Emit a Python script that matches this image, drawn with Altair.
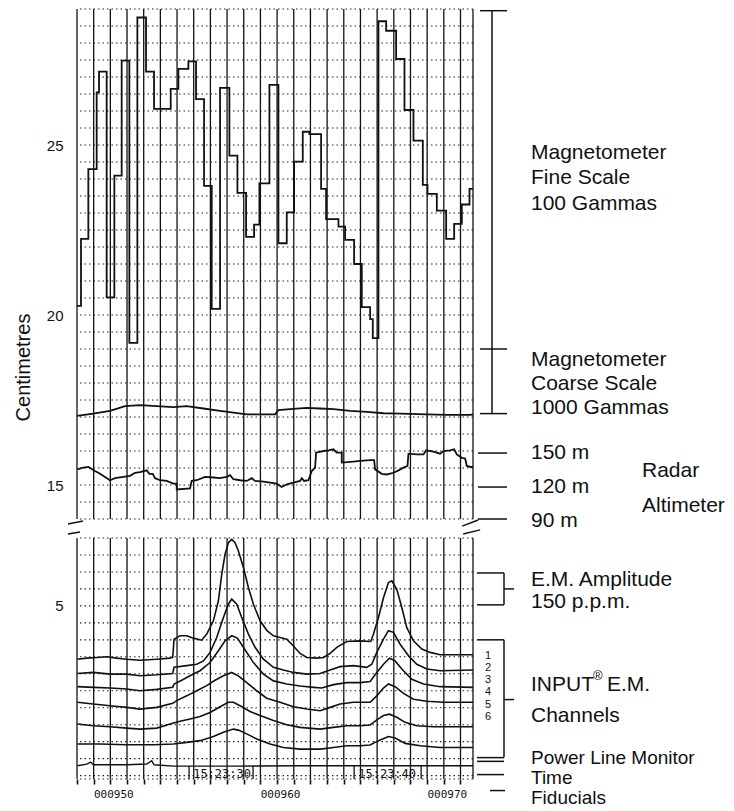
import altair as alt
import pandas as pd
import numpy as np

# ---------------- data (fiducial number -> centimetres on the chart) ----------------
mag_fine_x = [948.0, 948.24, 948.68, 949.18, 949.32, 949.78, 950.24, 950.68, 951.14, 951.62,
              952.14, 952.62, 953.62, 954.08, 954.68, 955.14, 955.62, 956.08, 956.58, 957.14,
              957.62, 958.14, 958.62, 958.94, 959.54, 960.08, 960.58, 961.02, 961.54, 961.94,
              962.64, 962.94, 963.68, 964.08, 964.62, 965.08, 965.58, 965.74, 966.08, 966.54,
              967.14, 967.64, 968.18, 968.74, 969.02, 969.58, 970.14, 970.62, 971.08, 971.54, 971.75]
mag_fine_y = [20.27, 22.24, 24.29, 26.55, 27.16, 20.52, 24.10, 27.48, 19.18, 28.75,
              27.16, 26.06, 26.65, 27.24, 27.46, 26.35, 23.80, 20.18, 26.68, 24.69,
              23.59, 22.30, 22.66, 23.87, 26.77, 22.11, 23.02, 24.51, 25.39, 25.32,
              23.71, 22.82, 22.60, 22.21, 21.50, 20.23, 19.88, 19.32, 28.64, 28.36,
              27.53, 26.03, 25.13, 23.83, 23.56, 23.07, 22.24, 22.68, 23.25, 23.71, 23.71]

mag_coarse_x = [948.0, 948.98, 949.98, 950.88, 951.78, 952.78, 953.78, 954.58, 955.58, 956.58,
                957.38, 958.18, 958.98, 959.88, 960.08, 960.78, 961.78, 962.58, 963.38, 964.38,
                965.38, 966.38, 967.38, 968.98, 970.18, 971.58, 971.75]
mag_coarse_y = [17.03, 17.10, 17.18, 17.32, 17.35, 17.32, 17.29, 17.32, 17.25, 17.18,
                17.13, 17.08, 17.08, 17.08, 17.20, 17.23, 17.27, 17.25, 17.23, 17.18,
                17.15, 17.11, 17.10, 17.08, 17.06, 17.06, 17.08]

radar_x = [948.02, 948.38, 948.68, 949.08, 949.38, 949.98, 950.28, 950.78, 951.18, 951.48,
           951.78, 952.18, 952.34, 952.54, 952.68, 952.98, 953.38, 953.78, 953.98, 953.98,
           954.78, 954.88, 955.18, 955.68, 956.18, 956.58, 956.98, 957.18, 957.38, 957.78,
           958.18, 958.48, 958.68, 959.18, 959.98, 960.28, 960.58, 960.98, 961.38, 961.48,
           961.62, 961.88, 962.08, 962.28, 962.34, 962.78, 963.08, 963.38, 963.58, 963.88,
           963.88, 964.58, 964.98, 965.58, 965.82, 965.88, 966.28, 966.58, 966.98, 967.28,
           967.58, 967.82, 967.88, 968.38, 968.78, 968.94, 969.38, 969.78, 969.98, 970.38,
           970.62, 970.78, 971.08, 971.28, 971.38, 971.62, 971.75]
radar_y = [15.46, 15.51, 15.53, 15.41, 15.33, 15.14, 15.20, 15.24, 15.27, 15.36,
           15.38, 15.43, 15.33, 15.33, 15.20, 15.14, 15.12, 15.04, 15.04, 14.87,
           14.90, 15.12, 15.14, 15.24, 15.22, 15.20, 15.24, 15.29, 15.17, 15.14,
           15.12, 15.20, 15.12, 15.10, 15.04, 14.94, 15.02, 15.07, 15.12, 15.20,
           15.12, 15.14, 15.41, 15.51, 15.95, 16.00, 16.02, 16.05, 15.95, 15.95,
           15.66, 15.69, 15.71, 15.73, 15.73, 15.46, 15.33, 15.31, 15.36, 15.43,
           15.51, 15.56, 15.92, 15.90, 15.90, 16.02, 15.98, 15.92, 16.00, 16.02,
           16.05, 15.90, 15.80, 15.78, 15.56, 15.53, 15.53]

ch1_x = [948.02, 948.58, 949.18, 949.78, 950.38, 950.98, 951.78, 952.78, 953.58, 953.74,
         953.82, 954.18, 954.58, 954.98, 955.48, 955.78, 956.18, 956.48, 956.68, 956.88,
         957.08, 957.28, 957.48, 957.68, 957.98, 958.28, 958.58, 958.98, 959.38, 959.78,
         960.18, 960.58, 960.98, 961.38, 961.78, 962.38, 962.78, 963.18, 963.58, 964.18,
         964.98, 965.62, 965.78, 966.08, 966.38, 966.68, 966.88, 967.18, 967.48, 967.78,
         968.18, 968.68, 969.18, 969.78, 970.58, 971.75]
ch1_y = [3.43, 3.46, 3.48, 3.50, 3.46, 3.43, 3.40, 3.43, 3.46, 3.48,
         4.02, 4.12, 4.12, 4.05, 3.99, 4.17, 4.56, 5.15, 5.93, 6.52,
         6.86, 6.96, 6.86, 6.62, 6.13, 5.54, 5.05, 4.56, 4.28, 4.12,
         4.07, 4.02, 3.82, 3.60, 3.48, 3.46, 3.48, 3.60, 3.78, 3.95,
         3.97, 3.95, 4.17, 4.66, 5.24, 5.69, 5.74, 5.49, 4.95, 4.36,
         3.97, 3.73, 3.63, 3.56, 3.56, 3.56]

ch2_x = [948.02, 948.98, 949.98, 950.98, 951.78, 952.78, 953.74, 953.82, 954.58, 955.18,
         955.58, 955.98, 956.38, 956.78, 957.08, 957.28, 957.58, 957.88, 958.28, 958.68,
         959.18, 959.78, 960.38, 960.98, 961.78, 962.58, 963.18, 963.78, 964.58, 965.38,
         965.68, 965.98, 966.38, 966.68, 966.98, 967.38, 967.88, 968.38, 968.98, 969.78, 971.75]
ch2_y = [3.01, 3.04, 2.99, 2.99, 2.94, 2.97, 3.01, 3.19, 3.24, 3.28,
         3.38, 3.63, 4.07, 4.66, 5.05, 5.20, 5.05, 4.66, 4.17, 3.78,
         3.43, 3.19, 3.11, 3.04, 2.99, 3.01, 3.11, 3.21, 3.24, 3.19,
         3.28, 3.63, 4.02, 4.27, 4.22, 3.87, 3.53, 3.28, 3.14, 3.09, 3.11]

ch3_x = [948.02, 948.98, 949.98, 950.98, 951.78, 952.78, 953.74, 953.82, 954.28, 954.78,
         955.38, 955.98, 956.48, 956.88, 957.28, 957.62, 957.98, 958.58, 959.18, 959.78,
         960.58, 961.38, 962.18, 962.68, 963.38, 964.18, 964.98, 965.58, 965.98, 966.38,
         966.74, 967.08, 967.48, 968.08, 968.78, 969.78, 971.75]
ch3_y = [2.62, 2.60, 2.58, 2.55, 2.50, 2.54, 2.60, 2.70, 2.81, 2.94,
         3.09, 3.33, 3.68, 3.97, 4.12, 4.05, 3.78, 3.33, 2.99, 2.79,
         2.70, 2.64, 2.60, 2.58, 2.68, 2.74, 2.74, 2.77, 3.04, 3.28,
         3.46, 3.38, 3.14, 2.84, 2.70, 2.62, 2.60]

ch4_x = [948.02, 948.98, 949.98, 950.98, 951.78, 952.78, 953.74, 953.98, 954.58, 955.18,
         955.78, 956.28, 956.78, 957.28, 957.68, 958.18, 958.78, 959.38, 960.18, 960.98,
         961.78, 962.58, 963.18, 963.78, 964.58, 965.58, 965.98, 966.38, 966.68, 967.08,
         967.58, 968.18, 968.98, 969.98, 971.75]
ch4_y = [2.16, 2.11, 2.06, 2.01, 1.96, 2.01, 2.13, 2.21, 2.35, 2.50,
         2.65, 2.81, 2.94, 3.04, 2.94, 2.74, 2.50, 2.28, 2.16, 2.03,
         1.96, 1.91, 2.01, 2.11, 2.16, 2.16, 2.35, 2.58, 2.70, 2.62,
         2.42, 2.25, 2.19, 2.16, 2.16]

ch5_x = [948.02, 948.98, 949.98, 950.98, 951.78, 952.78, 953.74, 954.18, 954.78, 955.38,
         955.98, 956.58, 957.08, 957.38, 957.78, 958.38, 958.98, 959.78, 960.58, 961.38,
         962.58, 963.38, 964.18, 964.98, 965.58, 965.98, 966.38, 966.74, 967.18, 967.68,
         968.38, 969.38, 971.75]
ch5_y = [1.52, 1.47, 1.44, 1.40, 1.37, 1.40, 1.54, 1.60, 1.67, 1.74,
         1.86, 2.03, 2.16, 2.16, 2.06, 1.89, 1.77, 1.62, 1.50, 1.42,
         1.37, 1.42, 1.47, 1.47, 1.49, 1.64, 1.77, 1.81, 1.72, 1.57,
         1.47, 1.44, 1.44]

ch6_x = [948.02, 949.38, 950.98, 952.58, 953.78, 954.58, 955.38, 956.18, 956.78, 957.38,
         957.68, 958.18, 958.78, 959.58, 960.38, 961.38, 962.58, 963.38, 964.18, 964.98,
         965.58, 966.08, 966.68, 967.08, 967.68, 968.58, 969.78, 971.75]
ch6_y = [0.93, 0.93, 0.91, 0.91, 0.93, 0.98, 1.03, 1.15, 1.28, 1.37,
         1.34, 1.23, 1.08, 0.93, 0.83, 0.78, 0.78, 0.83, 0.88, 0.88,
         0.90, 1.03, 1.15, 1.11, 0.95, 0.88, 0.83, 0.83]

power_x = [948.02, 948.58, 948.82, 948.98, 950.98, 952.18, 952.48, 952.62, 953.78, 957.38,
           961.38, 965.38, 971.75]
power_y = [0.29, 0.34, 0.40, 0.32, 0.32, 0.34, 0.44, 0.32, 0.28, 0.28,
           0.29, 0.29, 0.29]

time_labels = ["15:23:30", "15:23:40"]
time_label_x = [956.7, 966.6]
time_bracket_x = [954.72, 958.56, 964.62, 968.64]
fiducial_ticks = list(range(948, 972))

upper_labels = ["Magnetometer", "Fine Scale", "100 Gammas",
                "Magnetometer", "Coarse Scale", "1000 Gammas",
                "150 m", "120 m", "90 m"]
upper_label_y = [24.76, 24.03, 23.26, 18.67, 17.97, 17.27, 15.94, 14.94, 13.94]
radar_labels = ["Radar", "Altimeter"]
radar_label_y = [15.41, 14.38]
lower_labels = ["E.M. Amplitude", "150 p.p.m.", "INPUT", "Channels"]
lower_label_y = [5.77, 5.12, 2.68, 1.76]
bottom_labels = ["Power Line Monitor", "Time", "Fiducials"]
bottom_label_y = [0.53, -0.06, -0.65]
channel_numbers = ["1", "2", "3", "4", "5", "6"]
channel_number_y = [3.53, 3.17, 2.81, 2.45, 2.09, 1.73]

# ---------------- styling / layout ----------------
FONT = "Liberation Sans"
MONO = "DejaVu Sans Mono"
INK = "#111111"
W, H_UP, H_LO = 396, 510, 241

x_scale = alt.Scale(domain=[948, 971.75], nice=False, zero=False)
up_scale = alt.Scale(domain=[14, 29], nice=False, zero=False)
lo_scale = alt.Scale(domain=[-0.1, 7], nice=False, zero=False)

y_axis_up = alt.Axis(values=[15, 20, 25], title="Centimetres", titleFont=FONT, titleFontSize=20,
                     titleFontWeight="normal", titleColor=INK, titleX=-54, titleY=358,
                     titleBaseline="middle", titleAlign="center",
                     labelFont=FONT, labelFontSize=15, labelColor=INK, labelPadding=14,
                     ticks=False, tickSize=0, domain=False, grid=False)
y_axis_lo = alt.Axis(values=[5], title=None, labelFont=FONT, labelFontSize=15, labelColor=INK,
                     labelPadding=14, ticks=False, tickSize=0, domain=False, grid=False)
x_axis_lo = alt.Axis(values=fiducial_ticks, title=None, domain=False, grid=False,
                     labelExpr="datum.value % 10 == 0 ? '000' + datum.value : ''",
                     ticks=True, tickSize=5, tickWidth=1.6, tickColor=INK,
                     labelFont=MONO, labelFontSize=11, labelColor=INK, labelPadding=4,
                     labelOffset=3, labelFlush=False, labelOverlap=False)


def ux(f="x"):
    return alt.X(f"{f}:Q", scale=x_scale, axis=None)


def uy(f="y"):
    return alt.Y(f"{f}:Q", scale=up_scale, axis=y_axis_up)


def lx(f="x"):
    return alt.X(f"{f}:Q", scale=x_scale, axis=x_axis_lo)


def ly(f="y"):
    return alt.Y(f"{f}:Q", scale=lo_scale, axis=y_axis_lo)


def series(xs, ys, name="s"):
    return pd.DataFrame({"x": xs, "y": ys, "i": range(len(xs)), "ch": name})


vlines = pd.DataFrame({"x": fiducial_ticks + [971.75]})
hgrid_up = pd.DataFrame({"y": np.arange(14, 29.001, 0.5)})
hgrid_lo = pd.DataFrame({"y": list(np.arange(0, 7.001, 0.5)) + [-0.1]})

# ---------------- upper panel ----------------
up_layers = [
    alt.Chart(hgrid_up).mark_rule(strokeDash=[1.5, 3], strokeWidth=1.1, color="#222").encode(y=uy()),
    alt.Chart(vlines).mark_rule(strokeWidth=1.3, color=INK).encode(x=ux()),
    alt.Chart(series(mag_fine_x, mag_fine_y)).mark_line(interpolate="step-after", strokeWidth=1.8, color=INK)
       .encode(x=ux(), y=uy(), order="i:Q"),
    alt.Chart(series(mag_coarse_x, mag_coarse_y)).mark_line(strokeWidth=1.8, color=INK)
       .encode(x=ux(), y=uy(), order="i:Q"),
    alt.Chart(series(radar_x, radar_y)).mark_line(strokeWidth=1.8, color=INK)
       .encode(x=ux(), y=uy(), order="i:Q"),
    # magnetometer bracket
    alt.Chart(pd.DataFrame({"y": [28.95, 19.0, 17.1]})).mark_rule(strokeWidth=1.5, color=INK)
       .encode(x=alt.value(403), x2=alt.value(430), y=uy()),
    alt.Chart(pd.DataFrame({"y": [17.1], "y2": [28.95]})).mark_rule(strokeWidth=1.5, color=INK)
       .encode(x=alt.value(415), y=uy(), y2=alt.Y2("y2:Q")),
    # radar altimeter ticks
    alt.Chart(pd.DataFrame({"y": [15.94, 14.94, 14.0]})).mark_rule(strokeWidth=1.5, color=INK)
       .encode(x=alt.value(401), x2=alt.value(430), y=uy()),
    # scale break marks
    alt.Chart(pd.DataFrame({"x": [947.46, 947.46, 971.1, 971.16],
                            "x2": [948.36, 948.18, 972.06, 972.18],
                            "y": [13.85, 13.56, 13.79, 13.56],
                            "y2": [13.94, 13.62, 13.97, 13.68]}))
       .mark_rule(strokeWidth=1.5, color=INK)
       .encode(x=ux(), x2=alt.X2("x2:Q"), y=uy(), y2=alt.Y2("y2:Q")),
    alt.Chart(pd.DataFrame({"y": upper_label_y, "text": upper_labels}))
       .mark_text(align="left", baseline="middle", font=FONT, fontSize=21, color=INK)
       .encode(x=alt.value(454), y=uy(), text="text:N"),
    alt.Chart(pd.DataFrame({"y": radar_label_y, "text": radar_labels}))
       .mark_text(align="left", baseline="middle", font=FONT, fontSize=21, color=INK)
       .encode(x=alt.value(565), y=uy(), text="text:N"),
]
upper = alt.layer(*up_layers).properties(width=W, height=H_UP)

# ---------------- lower panel ----------------
em = pd.concat([series(ch1_x, ch1_y, "1"), series(ch2_x, ch2_y, "2"), series(ch3_x, ch3_y, "3"),
                series(ch4_x, ch4_y, "4"), series(ch5_x, ch5_y, "5"), series(ch6_x, ch6_y, "6")])

lo_layers = [
    alt.Chart(hgrid_lo).mark_rule(strokeDash=[1.5, 3], strokeWidth=1.1, color="#222").encode(y=ly()),
    alt.Chart(vlines).mark_rule(strokeWidth=1.3, color=INK).encode(x=lx()),
    alt.Chart(em).mark_line(strokeWidth=1.6, color=INK)
       .encode(x=lx(), y=ly(), detail="ch:N", order="i:Q"),
    alt.Chart(series(power_x, power_y)).mark_line(strokeWidth=1.4, color=INK)
       .encode(x=lx(), y=ly(), order="i:Q"),
    alt.Chart(pd.DataFrame({"x": time_label_x, "y": [0.06, 0.06], "text": time_labels}))
       .mark_text(align="center", baseline="middle", font=MONO, fontSize=12, color=INK)
       .encode(x=lx(), y=ly(), text="text:N"),
    alt.Chart(pd.DataFrame({"x": time_bracket_x, "y": [-0.1] * 4, "y2": [0.28] * 4}))
       .mark_rule(strokeWidth=1.3, color=INK)
       .encode(x=lx(), y=ly(), y2=alt.Y2("y2:Q")),
    # right-side brackets
    alt.Chart(pd.DataFrame({"y": [5.97, 5.03, 4.0, 0.53, 0.42, 0.03]})).mark_rule(strokeWidth=1.5, color=INK)
       .encode(x=alt.value(400), x2=alt.value(427), y=ly()),
    alt.Chart(pd.DataFrame({"y": [5.5, 2.24]})).mark_rule(strokeWidth=1.5, color=INK)
       .encode(x=alt.value(427), x2=alt.value(437), y=ly()),
    alt.Chart(pd.DataFrame({"y": [-0.44]})).mark_rule(strokeWidth=1.5, color=INK)
       .encode(x=alt.value(413), x2=alt.value(428), y=ly()),
    alt.Chart(pd.DataFrame({"y": [5.03, 0.53], "y2": [5.97, 4.0]})).mark_rule(strokeWidth=1.5, color=INK)
       .encode(x=alt.value(427), y=ly(), y2=alt.Y2("y2:Q")),
    alt.Chart(pd.DataFrame({"y": channel_number_y, "text": channel_numbers}))
       .mark_text(align="center", baseline="middle", font=FONT, fontSize=11, color=INK)
       .encode(x=alt.value(411), y=ly(), text="text:N"),
    alt.Chart(pd.DataFrame({"y": lower_label_y, "text": lower_labels}))
       .mark_text(align="left", baseline="middle", font=FONT, fontSize=21, color=INK)
       .encode(x=alt.value(454), y=ly(), text="text:N"),
    alt.Chart(pd.DataFrame({"y": bottom_label_y, "text": bottom_labels}))
       .mark_text(align="left", baseline="middle", font=FONT, fontSize=19, color=INK)
       .encode(x=alt.value(454), y=ly(), text="text:N"),
    alt.Chart(pd.DataFrame({"y": [2.94], "text": ["®"]}))
       .mark_text(align="left", baseline="middle", font=FONT, fontSize=13, color=INK)
       .encode(x=alt.value(516), y=ly(), text="text:N"),
    alt.Chart(pd.DataFrame({"y": [2.68], "text": ["E.M."]}))
       .mark_text(align="left", baseline="middle", font=FONT, fontSize=21, color=INK)
       .encode(x=alt.value(530), y=ly(), text="text:N"),
]
lower = alt.layer(*lo_layers).properties(width=W, height=H_LO)

chart = (
    alt.vconcat(upper, lower, spacing=19, bounds="flush")
    .properties(padding={"left": 5, "top": 0, "right": 0, "bottom": 0}, background="white")
    .configure_view(strokeWidth=0)
)

chart.save("out.html", embed_options={"renderer": "svg", "actions": False})
